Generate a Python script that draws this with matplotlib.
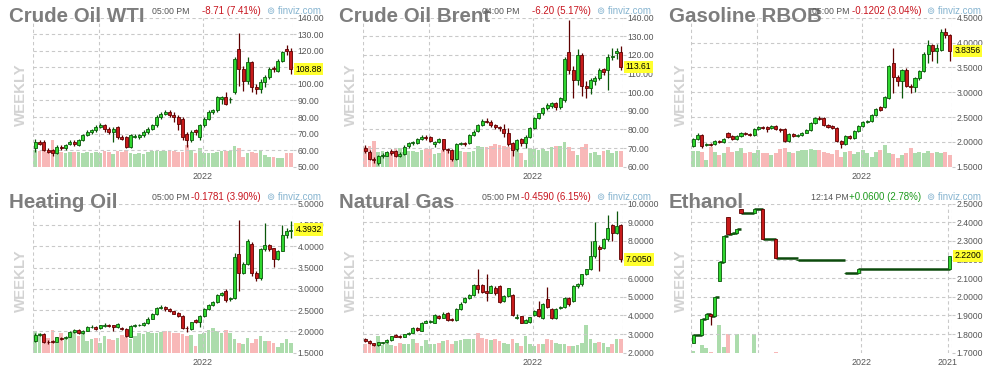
import numpy as np
import matplotlib
matplotlib.use("Agg")
import matplotlib.pyplot as plt

plt.rcParams["font.family"] = ["Liberation Sans", "DejaVu Sans"]

# ==============================================
# Data (weekly OHLC)
# ==============================================
wti_open = [61, 65, 65, 60, 60, 58, 62, 61, 64, 65, 63, 66, 69, 71, 72, 74, 75, 73, 71, 74,
            68, 68, 62, 68, 68, 69, 71, 73, 75, 80, 82, 83, 81, 80, 79, 70, 66, 72, 68, 75,
            79, 83, 84, 91, 92, 91, 95, 121, 109, 102, 113, 98, 97, 101, 104, 109.5, 108, 114, 121, 120]
wti_close = [65, 64, 60, 59, 58, 62, 61, 63, 65, 64, 66, 69, 71, 72, 74, 75, 73, 71, 73, 68,
             67, 62, 69, 68.5, 69, 71, 73, 75, 80, 82, 83, 81, 80, 76, 68, 66, 71, 71, 75, 79,
             83, 84, 92, 92, 88, 91, 115, 109, 102, 113, 98, 97, 101, 104, 109, 109, 114, 119, 120, 108.88]
wti_high = [67, 66, 66, 61, 60.5, 63, 63, 64, 66, 66, 67, 70, 72, 73, 75, 76.5, 76, 74, 74, 74.5,
            69, 68.5, 70, 69.5, 70, 72, 74, 76, 81, 83, 84.5, 84, 83, 81, 80, 71, 72, 73, 76, 80,
            84, 85, 93, 93, 95, 92, 116, 130.5, 111, 116.5, 114, 100, 103, 105.5, 110, 111, 115, 120, 123.5, 121.5]
wti_low = [59, 63, 59.5, 58, 56.5, 57.5, 60, 60, 63, 62.5, 62.5, 65.5, 68.5, 70, 71, 73.5, 71, 70, 65, 67,
           66, 61, 61.5, 67.5, 67, 68, 70, 72, 74, 79, 81, 80, 77, 72, 66, 62, 65, 69, 66, 74,
           78, 82, 83, 88, 87, 88.5, 94, 99, 96, 100, 95, 94, 94.5, 98, 103, 107, 107, 113, 117.5, 106]
wti_vol = [50, 48, 50, 45, 82, 40, 45, 42, 45, 45, 44, 40, 45, 42, 44, 42, 46, 44, 38, 48,
           45, 50, 40, 38, 40, 38, 45, 48, 46, 48, 46, 48, 46, 44, 45, 65, 50, 42, 55, 40,
           42, 40, 45, 46, 46, 48, 62, 55, 30, 40, 45, 40, 50, 35, 30, 30, 25, 25, 40, 40]

brent_open = [70, 68, 64, 62, 65.5, 66, 68.5, 68.5, 66, 67, 71, 72.5, 72.5, 75, 76, 76, 72, 73.4, 74.7, 69.5,
              69, 64, 72.3, 72.6, 72.5, 77, 79, 82.4, 84.7, 84.2, 82.4, 81.5, 80.5, 78, 72.5, 69.3, 74.7, 72.5, 76, 81,
              86, 88.6, 91.3, 92.5, 94, 92, 96, 121.7, 112, 106.5, 120, 103.3, 102, 106, 107.4, 112.3, 112, 118.7, 121, 121.7]
brent_close = [68.5, 64, 63.5, 66, 66.5, 68, 67.5, 65.5, 67, 70.7, 72.5, 73.4, 75, 76, 75.5, 74, 73.4, 74.7, 69.3, 68.8,
               64, 72, 72.6, 72, 77, 78.8, 82.4, 84.7, 84.2, 82.4, 81.5, 80.6, 78, 72, 69, 74.3, 72.5, 76, 81, 86,
               88.6, 91.3, 93, 94, 92, 97, 117.7, 112, 106.5, 120, 103.3, 102, 106.5, 107.5, 112, 111, 118.7, 119.4, 122, 113.61]
brent_high = [71.5, 69, 65, 66.5, 67.5, 68.5, 69.5, 69, 68, 71.5, 73, 74, 75.5, 77, 77, 76.5, 74, 75.5, 75, 70,
              69.5, 72.8, 73.5, 73, 77.5, 79.5, 83, 85.5, 86, 85, 83, 82, 83, 81, 73.5, 75, 75.5, 77, 81.5, 86.5,
              89, 92, 94, 95, 95, 97.5, 119, 139, 114, 123, 121, 106, 107.5, 108.5, 113, 113, 120.5, 124, 123.5, 125]
brent_low = [67.5, 63.5, 62, 61, 64.5, 65.5, 66.5, 65, 65, 66.5, 70, 71.5, 72, 74.5, 74.5, 73, 70.5, 72.5, 68.5, 67.5,
             63, 63.5, 71.5, 71, 72, 76.5, 78.5, 82, 83.5, 81.5, 80.5, 79, 76, 71, 65.5, 68.5, 71, 70, 75.5, 80.5,
             85.5, 88, 90.5, 91.5, 90.5, 91, 95, 110, 97, 104, 98, 97, 99, 104, 106.5, 109.5, 101, 117.5, 118, 112]
brent_vol = [60, 62, 78, 45, 48, 45, 40, 52, 55, 45, 48, 46, 44, 50, 52, 52, 38, 42, 50, 48,
             35, 50, 46, 44, 45, 48, 62, 60, 58, 64, 68, 66, 64, 60, 70, 50, 42, 20, 55, 52,
             50, 54, 48, 58, 62, 64, 74, 60, 46, 35, 58, 70, 40, 45, 36, 48, 50, 40, 46, 48]

gas_open = [1.92, 2.05, 2.14, 1.93, 1.96, 1.95, 2.02, 2.00, 2.18, 2.12, 2.05, 2.12, 2.18, 2.16, 2.14, 2.25, 2.30, 2.29, 2.27, 2.32,
            2.26, 2.25, 2.02, 2.15, 2.12, 2.13, 2.18, 2.24, 2.38, 2.48, 2.48, 2.33, 2.31, 2.27, 2.02, 1.95, 2.12, 2.08, 2.22, 2.32,
            2.40, 2.42, 2.55, 2.70, 2.70, 2.88, 3.58, 3.30, 3.22, 3.45, 3.13, 3.11, 3.28, 3.42, 3.76, 3.95, 3.82, 3.85, 4.22, 4.15]
gas_close = [2.05, 2.14, 1.91, 1.96, 1.94, 2.02, 1.99, 2.06, 2.10, 2.05, 2.12, 2.17, 2.16, 2.13, 2.25, 2.29, 2.28, 2.26, 2.32, 2.25,
             2.24, 2.02, 2.16, 2.12, 2.14, 2.18, 2.24, 2.38, 2.48, 2.47, 2.33, 2.30, 2.28, 2.02, 1.95, 2.12, 2.08, 2.22, 2.32, 2.40,
             2.42, 2.55, 2.66, 2.64, 2.90, 3.52, 3.30, 3.22, 3.45, 3.13, 3.11, 3.28, 3.42, 3.76, 3.96, 3.82, 3.88, 4.22, 4.15, 3.8356]
gas_high = [2.08, 2.17, 2.16, 1.98, 1.98, 2.04, 2.03, 2.08, 2.20, 2.14, 2.14, 2.19, 2.20, 2.18, 2.27, 2.31, 2.32, 2.31, 2.34, 2.34,
            2.28, 2.27, 2.18, 2.17, 2.16, 2.20, 2.26, 2.40, 2.50, 2.52, 2.50, 2.35, 2.33, 2.30, 2.04, 2.14, 2.14, 2.24, 2.34, 2.42,
            2.45, 2.57, 2.68, 2.73, 2.92, 3.55, 3.88, 3.35, 3.47, 3.48, 3.16, 3.30, 3.45, 3.80, 4.05, 3.97, 3.98, 4.28, 4.30, 4.18]
gas_low = [1.90, 2.03, 1.88, 1.91, 1.92, 1.94, 1.97, 1.98, 2.08, 2.03, 2.03, 2.10, 2.14, 2.11, 2.12, 2.24, 2.26, 2.20, 2.25, 2.23,
           2.20, 1.99, 2.00, 2.10, 2.10, 2.12, 2.17, 2.22, 2.36, 2.45, 2.31, 2.27, 2.25, 2.00, 1.87, 1.93, 2.05, 2.06, 2.20, 2.30,
           2.38, 2.40, 2.53, 2.62, 2.68, 2.86, 2.98, 3.12, 2.88, 3.10, 2.98, 3.00, 3.25, 3.40, 3.58, 3.62, 3.58, 3.82, 4.10, 3.62]
gas_vol = [48, 48, 45, 20, 60, 45, 35, 40, 60, 45, 48, 55, 40, 45, 40, 50, 40, 40, 35, 42,
           52, 55, 45, 40, 48, 50, 50, 52, 50, 50, 45, 40, 38, 50, 28, 45, 48, 38, 45, 50,
           40, 28, 45, 50, 65, 40, 38, 25, 35, 40, 55, 40, 45, 40, 48, 40, 45, 40, 45, 35]

ho_open = [1.78, 1.92, 1.95, 1.76, 1.77, 1.76, 1.85, 1.84, 1.88, 1.98, 2.04, 1.96, 2.02, 2.10, 2.11, 2.08, 2.12, 2.16, 2.14, 2.10,
           2.07, 2.06, 1.88, 2.12, 2.14, 2.15, 2.20, 2.30, 2.40, 2.55, 2.57, 2.52, 2.47, 2.44, 2.36, 2.09, 2.06, 2.26, 2.21, 2.36,
           2.53, 2.62, 2.68, 2.86, 2.96, 2.76, 2.78, 3.82, 3.38, 3.58, 4.05, 3.38, 3.25, 3.94, 4.02, 3.95, 3.70, 3.90, 4.27, 4.35]
ho_close = [1.92, 1.95, 1.75, 1.74, 1.76, 1.86, 1.83, 1.88, 1.98, 2.04, 1.96, 2.02, 2.10, 2.11, 2.06, 2.14, 2.16, 2.12, 2.10, 2.17,
            2.06, 1.89, 2.12, 2.16, 2.15, 2.20, 2.30, 2.40, 2.55, 2.58, 2.52, 2.47, 2.42, 2.37, 2.08, 2.07, 2.21, 2.21, 2.36, 2.53,
            2.62, 2.69, 2.86, 2.90, 2.73, 2.78, 3.75, 3.38, 3.58, 4.12, 3.38, 3.25, 3.93, 4.02, 3.93, 3.70, 3.90, 4.27, 4.35, 4.3932]
ho_high = [1.96, 1.97, 1.97, 1.79, 1.80, 1.88, 1.87, 1.90, 2.00, 2.06, 2.06, 2.04, 2.12, 2.14, 2.13, 2.16, 2.19, 2.18, 2.16, 2.19,
           2.10, 2.08, 2.14, 2.18, 2.18, 2.22, 2.33, 2.44, 2.57, 2.61, 2.59, 2.54, 2.49, 2.46, 2.38, 2.12, 2.23, 2.28, 2.38, 2.56,
           2.65, 2.71, 2.88, 2.93, 2.99, 2.80, 3.85, 4.62, 3.62, 4.18, 4.10, 3.42, 3.96, 4.55, 4.05, 3.97, 3.92, 4.50, 4.42, 4.60]
ho_low = [1.76, 1.90, 1.72, 1.71, 1.73, 1.74, 1.81, 1.82, 1.86, 1.96, 1.94, 1.94, 2.00, 2.08, 2.04, 2.06, 2.10, 2.10, 2.00, 2.08,
          2.03, 1.86, 1.86, 2.10, 2.12, 2.13, 2.18, 2.28, 2.38, 2.53, 2.49, 2.45, 2.40, 2.35, 2.05, 1.98, 2.04, 2.19, 2.10, 2.34,
          2.51, 2.60, 2.66, 2.84, 2.70, 2.72, 2.75, 2.95, 3.35, 3.55, 3.30, 3.18, 3.20, 3.88, 3.88, 3.52, 3.68, 3.88, 4.20, 4.20]
ho_vol = [65, 60, 50, 45, 70, 30, 60, 40, 45, 65, 50, 55, 35, 40, 45, 30, 50, 40, 38, 45,
          52, 48, 40, 50, 60, 55, 62, 60, 60, 62, 65, 62, 60, 58, 55, 50, 52, 20, 55, 60,
          70, 75, 65, 58, 70, 60, 40, 30, 25, 45, 30, 40, 50, 35, 35, 28, 18, 28, 40, 30]

ng_open = [2.72, 2.62, 2.50, 2.42, 2.50, 2.56, 2.68, 2.94, 2.92, 2.86, 2.98, 3.08, 3.32, 3.18, 3.62, 3.66, 3.62, 3.97, 3.88, 4.12,
           3.80, 3.76, 4.36, 4.70, 4.95, 5.10, 5.62, 5.62, 5.30, 5.22, 5.50, 5.58, 4.75, 5.05, 5.12, 3.86, 3.95, 3.62, 3.66, 4.05,
           4.33, 3.88, 4.86, 4.33, 3.88, 4.40, 4.47, 4.95, 4.77, 5.58, 5.67, 6.20, 6.47, 7.19, 7.66, 7.64, 8.08, 8.84, 8.44, 8.84]
ng_close = [2.62, 2.50, 2.40, 2.55, 2.56, 2.68, 2.88, 2.86, 2.84, 2.98, 3.08, 3.32, 3.22, 3.62, 3.70, 3.70, 4.05, 3.85, 4.10, 3.76,
            3.76, 4.36, 4.62, 4.95, 5.10, 5.62, 5.40, 5.26, 5.20, 5.58, 5.20, 4.70, 5.05, 5.45, 4.02, 3.92, 3.62, 3.75, 3.90, 4.23,
            3.97, 4.60, 4.47, 3.88, 4.36, 4.47, 4.95, 4.60, 5.58, 5.67, 6.20, 6.47, 7.19, 8.00, 7.55, 8.08, 8.71, 8.44, 8.80, 7.005]
ng_high = [2.80, 2.66, 2.54, 2.58, 2.60, 2.72, 2.92, 2.98, 2.96, 3.02, 3.12, 3.36, 3.36, 3.66, 3.74, 3.76, 4.10, 4.00, 4.18, 4.16,
           3.86, 4.42, 4.70, 5.00, 5.16, 5.70, 6.50, 5.70, 6.25, 5.62, 5.56, 5.62, 5.10, 5.50, 5.15, 4.10, 3.98, 3.80, 3.94, 4.28,
           4.80, 4.65, 5.55, 4.38, 4.42, 4.52, 5.00, 5.00, 5.62, 5.75, 6.25, 6.52, 8.00, 9.00, 7.80, 8.15, 9.40, 8.90, 9.60, 8.90]
ng_low = [2.58, 2.48, 2.34, 2.38, 2.46, 2.52, 2.64, 2.82, 2.80, 2.82, 2.94, 3.04, 3.18, 3.14, 3.58, 3.60, 3.58, 3.80, 3.84, 3.72,
          3.70, 3.72, 4.30, 4.65, 4.90, 5.05, 5.20, 5.18, 4.80, 5.18, 5.10, 4.65, 4.70, 5.00, 3.98, 3.80, 3.58, 3.58, 3.62, 3.95,
          3.90, 3.80, 4.40, 3.82, 3.82, 4.35, 4.42, 4.50, 4.72, 5.50, 5.60, 6.15, 6.42, 7.10, 6.40, 7.55, 8.00, 8.00, 8.35, 6.85]
ng_vol = [25, 25, 25, 50, 22, 28, 22, 20, 28, 25, 25, 40, 30, 20, 38, 25, 25, 30, 35, 38,
          25, 35, 38, 40, 40, 42, 58, 45, 40, 38, 42, 35, 30, 25, 40, 30, 20, 50, 25, 20,
          25, 25, 40, 38, 28, 25, 25, 20, 20, 22, 28, 85, 40, 30, 32, 30, 18, 25, 40, 40]

# ethanol trades only on some weeks
eth_idx = [0, 2, 3, 4, 5, 6, 7, 8, 9, 10, 11, 14, 16, 19, 24, 35, 38, 59]
eth_open = [1.754, 1.793, 1.879, 1.906, 1.897, 2.085, 2.187, 2.430, 2.335, 2.344, 2.473, 2.452, 2.473, 2.312, 2.197, 2.126, 2.126, 2.151]
eth_close = [1.793, 1.879, 1.906, 1.897, 2.001, 2.187, 2.326, 2.335, 2.344, 2.362, 2.452, 2.473, 2.312, 2.210, 2.197, 2.126, 2.151, 2.220]
eth_high = [1.793, 1.879, 1.906, 1.906, 2.001, 2.187, 2.326, 2.430, 2.344, 2.362, 2.473, 2.473, 2.473, 2.312, 2.197, 2.126, 2.151, 2.220]
eth_low = [1.754, 1.793, 1.879, 1.847, 1.897, 2.085, 2.187, 2.335, 2.335, 2.344, 2.452, 2.452, 2.312, 2.210, 2.197, 2.126, 2.126, 2.151]
eth_vol = [5, 22, 15, 3, 0, 85, 18, 55, 0, 55, 0, 55, 0, 3, 0, 0, 0, 0]

titles = ["Crude Oil WTI", "Crude Oil Brent", "Gasoline RBOB", "Heating Oil", "Natural Gas", "Ethanol"]
times = ["05:00 PM", "04:00 PM", "05:00 PM", "05:00 PM", "05:00 PM", "12:14 PM"]
changes = ["-8.71 (7.41%)", "-6.20 (5.17%)", "-0.1202 (3.04%)", "-0.1781 (3.90%)", "-0.4590 (6.15%)", "+0.0600 (2.78%)"]
last_labels = ["108.88", "113.61", "3.8356", "4.3932", "7.0050", "2.2200"]
y_ranges = [(50, 140, 10), (60, 140, 10), (1.5, 4.5, 0.5), (1.5, 5.0, 0.5), (2, 10, 1), (1.7, 2.5, 0.1)]
y_formats = ["%.2f", "%.2f", "%.4f", "%.4f", "%.4f", "%.4f"]

# ==============================================
# Styling
# ==============================================
W, H = 988, 376
GREEN_BODY = "#2fd62f"
GREEN_EDGE = "#0a570a"
RED_BODY = "#c81a1a"
RED_EDGE = "#5e0000"
VOL_UP = "#acdcac"
VOL_DN = "#f8b8b8"
GRID = "#c9c9c9"
TXT = "#555555"
VOL_TOP = 450

cols = [(0, 33, 293), (330, 363, 623), (660, 691, 952)]
rows = [(0, 17.7, 166.7), (186, 203.7, 352.7)]

fig = plt.figure(figsize=(W / 100, H / 100), dpi=100)


def draw_panel(k, o, h, l, c, vol, x=None, steps=False):
    ox, x0, x1 = cols[k % 3]
    oy, y0, y1 = rows[k // 3]
    ax = fig.add_axes([x0 / W, 1 - y1 / H, (x1 - x0) / W, (y1 - y0) / H])
    o, h, l, c = map(np.asarray, (o, h, l, c))
    x = np.arange(len(c)) if x is None else np.asarray(x)
    up = c >= o

    # volume underneath
    vax = ax.twinx()
    vax.bar(x, vol, width=0.92, color=np.where(up, VOL_UP, VOL_DN), linewidth=0)
    vax.set_ylim(0, VOL_TOP)
    vax.axis("off")
    ax.set_zorder(vax.get_zorder() + 1)
    ax.patch.set_visible(False)

    lo, hi, st = y_ranges[k]
    ax.set_ylim(lo, hi)
    ax.set_xlim(-0.5, 59.5)

    if steps:
        ax.hlines(c[:-1], x[:-1], x[1:], colors="#0c4a0c", linewidth=1.8, zorder=2)

    ax.vlines(x, l, h, colors=np.where(up, GREEN_EDGE, RED_EDGE), linewidth=0.9, zorder=3)
    ax.bar(x, c - o, bottom=o, width=0.72, color=np.where(up, GREEN_BODY, RED_BODY),
           edgecolor=np.where(up, GREEN_EDGE, RED_EDGE), linewidth=0.6, zorder=4)

    # grid
    ticks = np.arange(lo, hi + st / 2, st)
    ax.set_yticks(ticks)
    ax.yaxis.set_major_formatter(plt.FormatStrFormatter(y_formats[k]))
    for t in ticks[1:]:
        ax.axhline(t, color=GRID, lw=0.8, ls=(0, (3, 2.5)), zorder=0)
    if k == 5:
        vgrid = [-0.5, 15, 38.6, 58.5, 59.5]
        ax.set_xticks([38.6, 58.5])
        ax.set_xticklabels(["2022", "2021"])
    else:
        vgrid = [-0.5, 14.7, 38.7, 59.5]
        ax.set_xticks([38.7])
        ax.set_xticklabels(["2022"])
    for v in vgrid:
        ax.axvline(v, color=GRID, lw=0.8, ls=(0, (3, 2.5)), zorder=0)

    for s in ax.spines.values():
        s.set_visible(False)
    ax.yaxis.tick_right()
    ax.tick_params(axis="y", length=2, color=GRID, labelsize=6.2, labelcolor=TXT, pad=1.5)
    ax.tick_params(axis="x", length=0, labelsize=6.4, labelcolor=TXT, pad=4)

    # last price marker
    ax.text(1.0 + 2.5 / 260, c[-1], last_labels[k], transform=ax.get_yaxis_transform(),
            ha="left", va="center", fontsize=6.2, color="black", zorder=20, clip_on=False,
            bbox=dict(boxstyle="square,pad=0.18", fc="#ffff2e", ec="none"))

    # header
    ty = 1 - (oy + 11) / H
    fig.text((ox + 9) / W, 1 - (oy + 22) / H, titles[k], fontsize=14.8, fontweight="bold",
             color="#7d7d7d", va="baseline", ha="left")
    fig.text((ox + 189) / W, ty, times[k], fontsize=6.3, color=TXT, ha="right", va="center")
    chg_col = "#1e9a1e" if changes[k].startswith("+") else "#c8141e"
    fig.text((ox + 261) / W, ty, changes[k], fontsize=7, color=chg_col, ha="right", va="center")
    fig.text((ox + 267) / W, ty, "\u229a finviz.com", fontsize=7, color="#86b4d0", ha="left", va="center")
    fig.text((ox + 21) / W, 1 - (oy + 95) / H, "WEEKLY", rotation=90, fontsize=10.8,
             fontweight="bold", color="#d3d3d3", ha="center", va="center")
    return ax


draw_panel(0, wti_open, wti_high, wti_low, wti_close, wti_vol)
draw_panel(1, brent_open, brent_high, brent_low, brent_close, brent_vol)
draw_panel(2, gas_open, gas_high, gas_low, gas_close, gas_vol)
draw_panel(3, ho_open, ho_high, ho_low, ho_close, ho_vol)
draw_panel(4, ng_open, ng_high, ng_low, ng_close, ng_vol)
draw_panel(5, eth_open, eth_high, eth_low, eth_close, eth_vol, x=eth_idx, steps=True)

fig.savefig("out.png", dpi=100)
